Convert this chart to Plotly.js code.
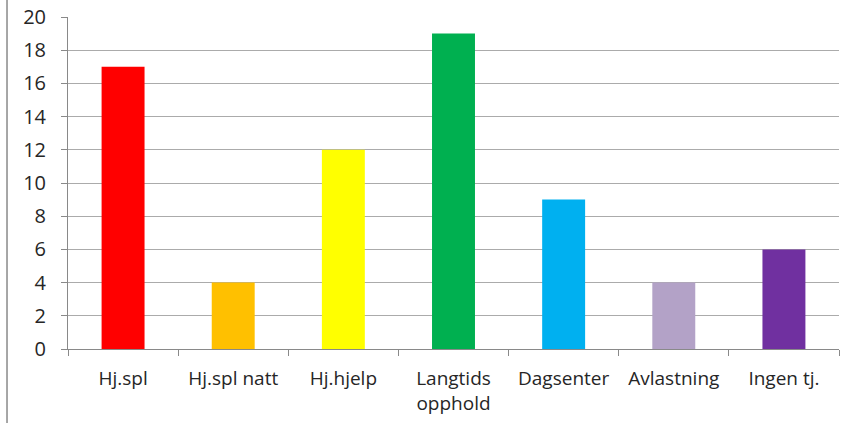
<!DOCTYPE html>
<html><head><meta charset="utf-8">
<script src="https://cdn.plot.ly/plotly-3.0.1.min.js"></script>
<style>html,body{margin:0;padding:0;background:#fff}#c{width:844px;height:423px}</style>
</head><body><div id="c"></div>
<script>
const categories = ["Hj.spl", "Hj.spl natt", "Hj.hjelp", "Langtids<br>opphold", "Dagsenter", "Avlastning", "Ingen tj."];
const values = [17, 4, 12, 19, 9, 4, 6];
const colors = ["#FF0000", "#FFC000", "#FFFF00", "#00B050", "#00B0F0", "#B3A2C7", "#7030A0"];
const yTicks = [0, 2, 4, 6, 8, 10, 12, 14, 16, 18, 20];

const font = {family: "Open Sans, Noto Sans, sans-serif", size: 19, color: "#262626"};
const yfont = {family: "Open Sans, Noto Sans, sans-serif", size: 20, color: "#262626"};
Plotly.newPlot("c", [{
  type: "bar", x: categories, y: values,
  marker: {color: colors, line: {width: 0}},
  width: 0.39, hoverinfo: "none"
}], {
  width: 844, height: 423,
  margin: {l: 68, r: 5, t: 17, b: 74},
  paper_bgcolor: "#fff", plot_bgcolor: "#fff",
  showlegend: false,
  font: font,
  xaxis: {
    type: "category", tickson: "boundaries", ticks: "outside", ticklen: 6, tickcolor: "#898989",
    ticklabelstandoff: 12,
    showline: true, linecolor: "#898989", linewidth: 1, showgrid: false, zeroline: false,
    tickfont: font, fixedrange: true
  },
  yaxis: {
    range: [0, 20], tickvals: yTicks, ticktext: yTicks.map(String),
    ticks: "outside", ticklen: 6, tickcolor: "#898989", ticklabelstandoff: 11,
    showline: true, linecolor: "#898989", linewidth: 1,
    showgrid: true, gridcolor: "#ABABAB", gridwidth: 1, zeroline: false,
    tickfont: yfont, fixedrange: true
  },
  shapes: [{type: "line", xref: "paper", yref: "paper", x0: -0.0791, x1: -0.0791, y0: -0.3, y1: 1.06,
    line: {color: "#898989", width: 1.5}}]
}, {displayModeBar: false, staticPlot: true});
</script></body></html>
